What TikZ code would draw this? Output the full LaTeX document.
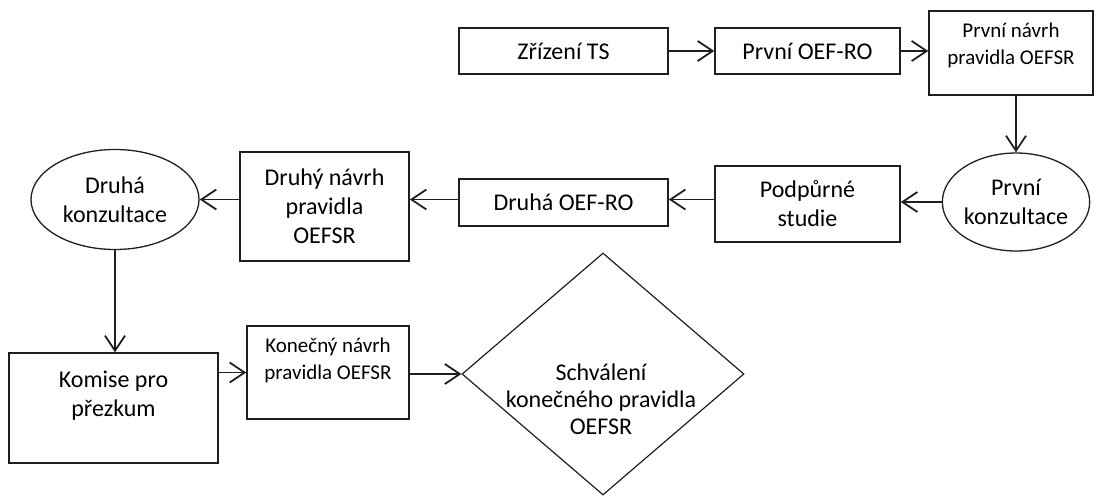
\documentclass[tikz,border=0pt]{standalone}
\usepackage{fontspec}
\setmainfont{Carlito}
\usetikzlibrary{shapes.geometric,arrows.meta}

\tikzset{
  ink/.style={draw=black!88},
  stepbox/.style={ink, rectangle, line width=1.5pt, inner sep=0pt, align=center,
    font=\fontsize{24}{29}\selectfont},
  smallbox/.style={stepbox, font=\fontsize{21}{27}\selectfont},
  meeting/.style={ink, ellipse, line width=1.3pt, inner sep=0pt, align=center,
    font=\fontsize{24}{29}\selectfont},
  decision/.style={ink, diamond, line width=1.2pt, inner sep=0pt},
  plaintext/.style={align=center, inner sep=0pt, font=\fontsize{24}{27}\selectfont},
  flow/.style={draw=black!88, line width=1.8pt,
    -{Straight Barb[length=15pt,width=20pt,line width=1.8pt]}}
}

\begin{document}
\begin{tikzpicture}[x=1pt,y=-1pt]
  \useasboundingbox (0,0) rectangle (1094,495);

  % top row
  \node[stepbox, minimum width=209pt, minimum height=46pt] (zts) at (563.5,51) {Zřízení TS};
  \node[stepbox, minimum width=185pt, minimum height=46pt] (poef) at (807.5,51) {První OEF-RO};
  \node[smallbox, minimum width=164pt, minimum height=84pt] (pnavrh) at (1011,53)
    {První návrh\\pravidla OEFSR\\[-8pt]\mbox{}};

  % middle row
  \node[meeting, minimum width=140pt, minimum height=98pt] (pkonz) at (1016,202) {První\\konzultace};
  \node[stepbox, minimum width=185pt, minimum height=76pt] (podp) at (807.5,204) {Podpůrné\\studie};
  \node[stepbox, minimum width=209pt, minimum height=47pt] (doef) at (563.5,202.5) {Druhá OEF-RO};
  \node[stepbox, minimum width=169pt, minimum height=109pt] (dnavrh) at (324.5,206.5)
    {Druhý návrh\\pravidla\\OEFSR};
  \node[meeting, minimum width=168pt, minimum height=100pt] (dkonz) at (115,199.5) {Druhá\\konzultace};

  % bottom row
  \node[stepbox, minimum width=209pt, minimum height=110pt] (komise) at (113.5,408)
    {Komise pro\\přezkum\\\mbox{}};
  \node[smallbox, minimum width=162pt, minimum height=93pt] (konec) at (328,372.5)
    {Konečný návrh\\pravidla OEFSR\\\mbox{}};
  \node[decision, minimum width=282pt, minimum height=242pt] (schv) at (603,374) {};
  \node[plaintext] (schvtext) at (601,399) {Schválení\\konečného pravidla\\OEFSR};

  % connectors
  \draw[flow] (zts.east) -- (poef.west);
  \draw[flow] (poef.east) -- (poef.east -| pnavrh.west);
  \draw[flow] (pnavrh.south -| pkonz.north) -- (pkonz.north);
  \draw[flow] (pkonz.west) -- (podp.east |- pkonz.west);
  \draw[flow] (podp.west |- dkonz) -- (doef.east |- dkonz);
  \draw[flow] (doef.west |- dkonz) -- (dnavrh.east |- dkonz);
  \draw[flow] (dnavrh.west |- dkonz) -- (dkonz.east);
  \draw[flow] (dkonz.south) -- (dkonz.south |- komise.north);
  \draw[flow] (komise.east |- konec.west) -- (konec.west);
  \draw[flow] (konec.east |- schv.west) -- (schv.west);
\end{tikzpicture}
\end{document}
